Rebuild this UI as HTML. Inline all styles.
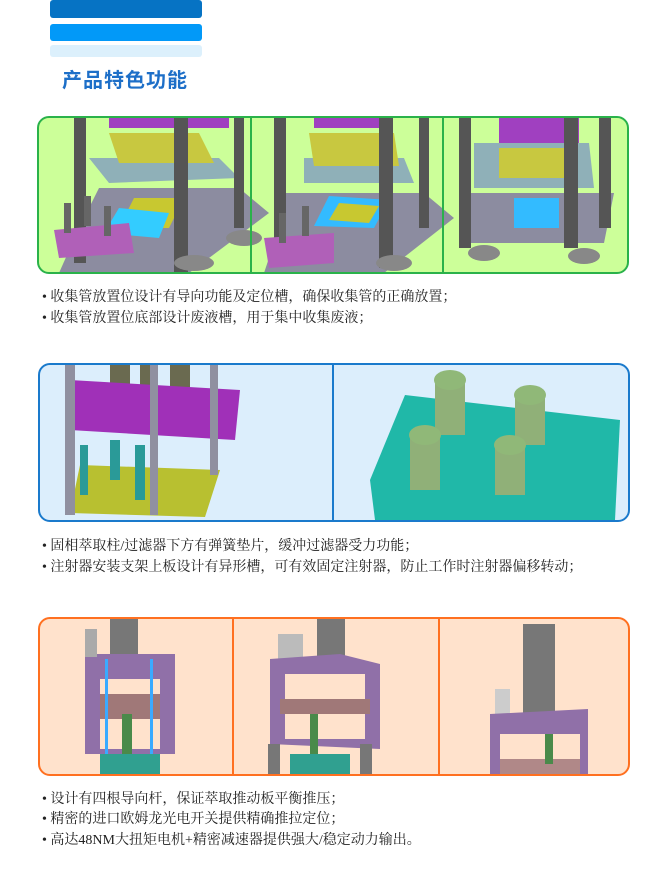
<!DOCTYPE html>
<html><head><meta charset="utf-8"><style>
body{margin:0;width:669px;height:876px;background:#fff;position:relative;overflow:hidden;font-family:"Liberation Sans","Noto Sans CJK SC",sans-serif}
.bar{position:absolute;left:50px;width:152px;border-radius:3px}
.t{position:absolute;font-size:14px;color:#222;white-space:nowrap;font-family:"Liberation Serif","Noto Serif CJK SC",serif}
.p{position:absolute;overflow:hidden;border-radius:12px}
</style></head><body>
<div class="bar" style="top:0;height:18px;background:#0673c4"></div>
<div class="bar" style="top:24px;height:17px;background:#0299f8"></div>
<div class="bar" style="top:45px;height:12px;background:#dcf0fc"></div>
<div style="position:absolute;left:62px;top:64px;font-size:20px;font-weight:bold;color:#1d6fc8;letter-spacing:1px">产品特色功能</div>

<div class="p" style="left:37px;top:116px;width:588px;height:154px;border:2px solid #2ab24a;background:#ccff99">
<svg width="588" height="154">
<g>
<rect x="70" y="0" width="120" height="10" fill="#a040c0"/>
<polygon points="50,40 180,40 200,60 70,65" fill="#8fb0b8"/>
<polygon points="70,15 160,15 175,45 80,45" fill="#c8c840"/>
<polygon points="60,70 200,70 230,95 150,155 20,155 40,110" fill="#8c8ca0"/>
<polygon points="95,80 145,80 130,110 80,110" fill="#c8c830"/>
<polygon points="80,90 130,95 120,120 65,115" fill="#33ccff"/>
<rect x="35" y="0" width="12" height="145" fill="#555"/>
<rect x="135" y="0" width="14" height="155" fill="#555"/>
<rect x="195" y="0" width="10" height="110" fill="#555"/>
<polygon points="15,112 90,105 95,135 20,140" fill="#b060b8"/>
<rect x="25" y="85" width="7" height="30" fill="#666"/><rect x="45" y="78" width="7" height="30" fill="#666"/><rect x="65" y="88" width="7" height="30" fill="#666"/>
<ellipse cx="155" cy="145" rx="20" ry="8" fill="#888"/><ellipse cx="205" cy="120" rx="18" ry="8" fill="#888"/>
</g>
<line x1="212" y1="0" x2="212" y2="154" stroke="#2ab24a" stroke-width="2"/>
<g transform="translate(215,0)">
<rect x="60" y="0" width="70" height="10" fill="#a040c0"/>
<polygon points="50,40 150,40 160,65 50,65" fill="#8fb0b8"/>
<polygon points="55,15 140,15 145,48 60,48" fill="#c8c840"/>
<polygon points="30,75 170,75 200,100 130,155 10,155 25,110" fill="#8c8ca0"/>
<polygon points="75,78 135,82 120,110 60,108" fill="#33bbff"/>
<polygon points="85,85 125,88 115,105 75,102" fill="#c8c830"/>
<rect x="20" y="0" width="12" height="145" fill="#555"/>
<rect x="125" y="0" width="14" height="150" fill="#555"/>
<rect x="165" y="0" width="10" height="110" fill="#555"/>
<polygon points="10,120 80,115 80,145 15,150" fill="#b060b8"/>
<rect x="25" y="95" width="7" height="30" fill="#666"/><rect x="48" y="88" width="7" height="30" fill="#666"/>
<ellipse cx="140" cy="145" rx="18" ry="8" fill="#888"/>
</g>
<line x1="404" y1="0" x2="404" y2="154" stroke="#2ab24a" stroke-width="2"/>
<g transform="translate(405,0)">
<rect x="55" y="0" width="80" height="25" fill="#a040c0"/>
<polygon points="30,25 145,25 150,70 30,70" fill="#8fb0b8"/>
<polygon points="55,30 125,30 125,60 55,60" fill="#c8c840"/>
<polygon points="25,75 170,75 160,125 20,125" fill="#8c8ca0"/>
<rect x="70" y="80" width="45" height="30" fill="#33bbff"/>
<rect x="15" y="0" width="12" height="130" fill="#555"/>
<rect x="120" y="0" width="14" height="130" fill="#555"/>
<rect x="155" y="0" width="12" height="110" fill="#555"/>
<ellipse cx="40" cy="135" rx="16" ry="8" fill="#888"/><ellipse cx="140" cy="138" rx="16" ry="8" fill="#888"/>
</g>
</svg></div>
<div class="t" style="left:42px;top:286px">• 收集管放置位设计有导向功能及定位槽，确保收集管的正确放置；</div>
<div class="t" style="left:42px;top:307px">• 收集管放置位底部设计废液槽，用于集中收集废液；</div>

<div class="p" style="left:38px;top:363px;width:588px;height:155px;border:2px solid #1a7acc;background:#dceefc">
<svg width="588" height="155">
<rect x="70" y="0" width="20" height="55" fill="#6a6a50"/><rect x="130" y="0" width="20" height="60" fill="#6a6a50"/><rect x="100" y="0" width="15" height="25" fill="#6a6a50"/>
<polygon points="30,15 200,25 195,75 30,65" fill="#a030b8"/>
<polygon points="40,100 180,105 165,152 30,148" fill="#b8c030"/>
<rect x="40" y="80" width="8" height="50" fill="#2a9a98"/><rect x="70" y="75" width="10" height="40" fill="#2a9a98"/><rect x="95" y="80" width="10" height="55" fill="#2a9a98"/>
<rect x="25" y="0" width="10" height="150" fill="#9090a0"/><rect x="110" y="0" width="8" height="150" fill="#9090a0"/><rect x="170" y="0" width="8" height="110" fill="#9090a0"/>
<line x1="293" y1="0" x2="293" y2="155" stroke="#1a7acc" stroke-width="2"/>
<polygon points="365,30 580,55 575,155 335,155 330,115" fill="#20b8a8"/>
<rect x="395" y="15" width="30" height="55" fill="#90b078"/><ellipse cx="410" cy="15" rx="16" ry="10" fill="#90b878"/>
<rect x="475" y="30" width="30" height="50" fill="#90b078"/><ellipse cx="490" cy="30" rx="16" ry="10" fill="#90b878"/>
<rect x="370" y="70" width="30" height="55" fill="#90b078"/><ellipse cx="385" cy="70" rx="16" ry="10" fill="#90b878"/>
<rect x="455" y="80" width="30" height="50" fill="#90b078"/><ellipse cx="470" cy="80" rx="16" ry="10" fill="#90b878"/>
</svg></div>
<div class="t" style="left:42px;top:535px">• 固相萃取柱/过滤器下方有弹簧垫片，缓冲过滤器受力功能；</div>
<div class="t" style="left:42px;top:556px">• 注射器安装支架上板设计有异形槽，可有效固定注射器，防止工作时注射器偏移转动；</div>

<div class="p" style="left:38px;top:617px;width:588px;height:155px;border:2px solid #ff7020;background:#ffe2cc">
<svg width="588" height="155">
<rect x="70" y="0" width="28" height="42" fill="#777"/>
<rect x="45" y="35" width="90" height="100" fill="#9070a8"/>
<rect x="60" y="60" width="60" height="70" fill="#ffe2cc"/>
<rect x="60" y="75" width="60" height="25" fill="#a07878"/>
<rect x="65" y="40" width="3" height="100" fill="#3aaaff"/><rect x="110" y="40" width="3" height="100" fill="#3aaaff"/>
<rect x="82" y="95" width="10" height="45" fill="#4a8a4a"/>
<rect x="60" y="135" width="60" height="20" fill="#30a090"/>
<rect x="45" y="10" width="12" height="28" fill="#aaa"/>
<line x1="193" y1="0" x2="193" y2="155" stroke="#ff7020" stroke-width="2"/>
<rect x="277" y="0" width="28" height="40" fill="#777"/>
<rect x="238" y="15" width="25" height="28" fill="#bbb"/>
<polygon points="230,40 300,35 340,45 340,130 230,125" fill="#9070a8"/>
<rect x="245" y="55" width="80" height="65" fill="#ffe2cc"/>
<rect x="240" y="80" width="90" height="15" fill="#a07878"/>
<rect x="270" y="95" width="8" height="40" fill="#4a8a4a"/>
<rect x="250" y="135" width="60" height="20" fill="#30a090"/>
<rect x="228" y="125" width="12" height="30" fill="#777"/><rect x="320" y="125" width="12" height="30" fill="#777"/>
<line x1="399" y1="0" x2="399" y2="155" stroke="#ff7020" stroke-width="2"/>
<rect x="483" y="5" width="32" height="100" fill="#777"/>
<rect x="455" y="70" width="15" height="40" fill="#ccc"/>
<polygon points="450,95 548,90 548,155 450,155" fill="#9070a8"/>
<rect x="460" y="115" width="80" height="40" fill="#ffe2cc"/>
<rect x="460" y="140" width="80" height="15" fill="#b08888"/>
<rect x="505" y="115" width="8" height="30" fill="#4a8a4a"/>
</svg></div>
<div class="t" style="left:42px;top:788px">• 设计有四根导向杆，保证萃取推动板平衡推压；</div>
<div class="t" style="left:42px;top:808px">• 精密的进口欧姆龙光电开关提供精确推拉定位；</div>
<div class="t" style="left:42px;top:829px">• 高达48NM大扭矩电机+精密减速器提供强大/稳定动力输出。</div>
</body></html>
